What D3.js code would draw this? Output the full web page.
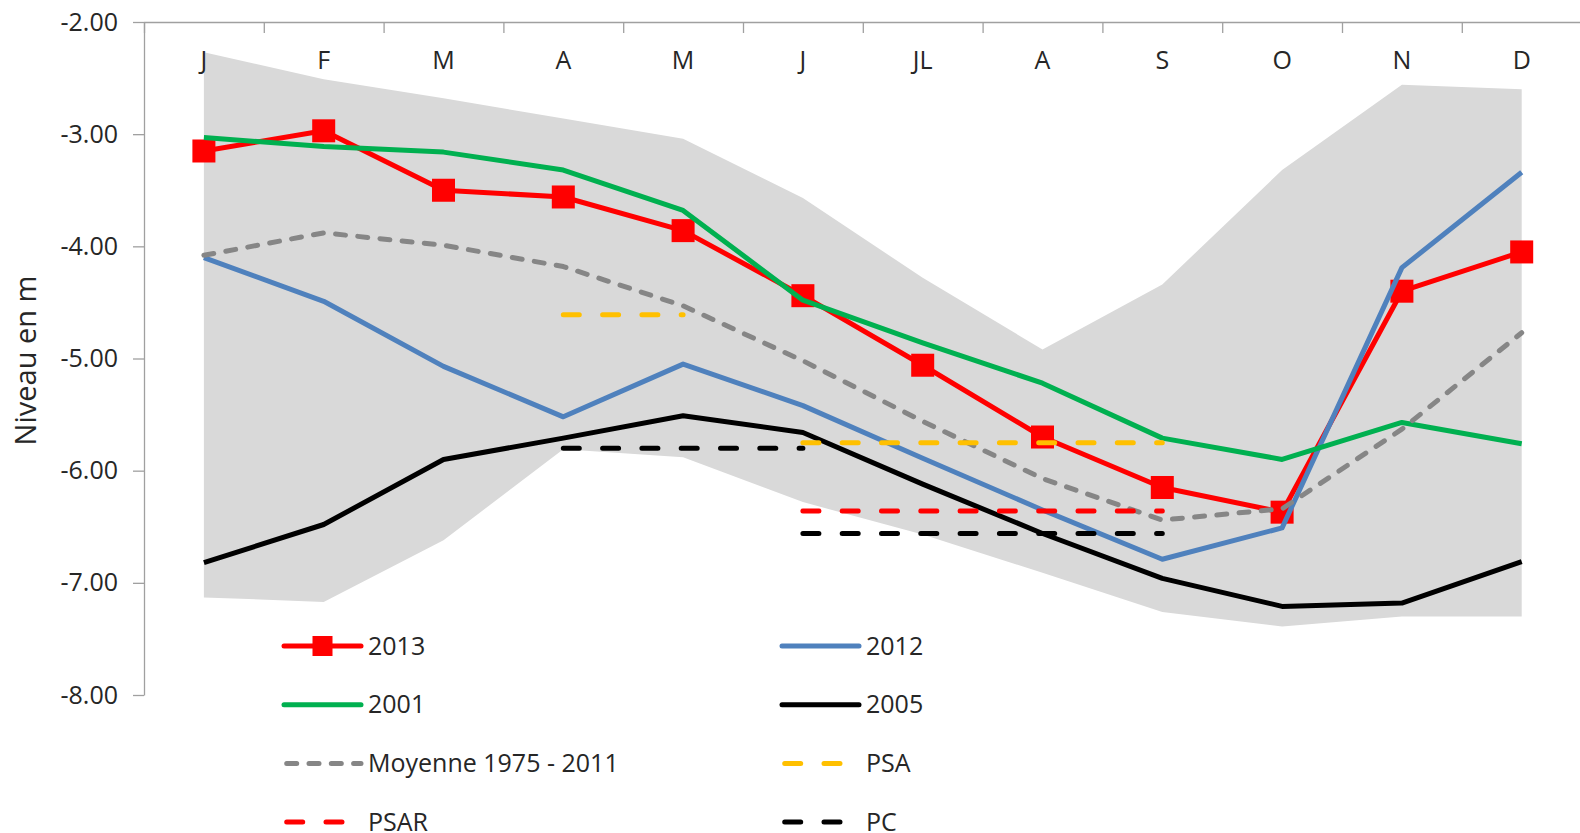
<!DOCTYPE html>
<html>
<head>
<meta charset="utf-8">
<script src="https://cdn.jsdelivr.net/npm/d3@7"></script>
<style>
  body { margin: 0; background: #fff; }
  svg { display: block; font-family: "Open Sans", sans-serif; }
</style>
</head>
<body>
<script>
// months on the top axis
var months = ["J", "F", "M", "A", "M", "J", "JL", "A", "S", "O", "N", "D"];
var yTicks = [-2, -3, -4, -5, -6, -7, -8];

// min / max envelope (grey band)
var envHigh = [-2.27, -2.51, -2.68, -2.86, -3.04, -3.57, -4.28, -4.92, -4.34, -3.32, -2.56, -2.60];
var envLow  = [-7.13, -7.17, -6.62, -5.81, -5.88, -6.28, -6.57, -6.91, -7.26, -7.39, -7.30, -7.30];

var s2013 = [-3.15, -2.97, -3.50, -3.56, -3.86, -4.44, -5.06, -5.70, -6.15, -6.37, -4.40, -4.05];
var s2012 = [-4.10, -4.49, -5.07, -5.52, -5.05, -5.42, -5.89, -6.35, -6.79, -6.51, -4.19, -3.34];
var s2001 = [-3.03, -3.11, -3.16, -3.32, -3.68, -4.48, -4.86, -5.22, -5.71, -5.90, -5.57, -5.76];
var s2005 = [-6.82, -6.48, -5.90, -5.71, -5.51, -5.66, -6.12, -6.56, -6.96, -7.21, -7.18, -6.81];
var moyenne = [-4.08, -3.88, -3.99, -4.18, -4.53, -5.02, -5.56, -6.07, -6.44, -6.34, -5.63, -4.77];

// thresholds (null = not shown that month)
var psa1  = [null, null, null, -4.61, -4.61, null, null, null, null, null, null, null];
var psa2  = [null, null, null, null, null, -5.75, -5.75, -5.75, -5.75, null, null, null];
var psar  = [null, null, null, null, null, -6.36, -6.36, -6.36, -6.36, null, null, null];
var pc1   = [null, null, null, -5.80, -5.80, -5.80, null, null, null, null, null, null];
var pc2   = [null, null, null, null, null, -6.56, -6.56, -6.56, -6.56, null, null, null];

var w = 1580, h = 833;
var plotLeft = 144, plotTop = 22, plotBottom = 695;
var band = 119.8;

var svg = d3.select("body").append("svg")
    .attr("width", w)
    .attr("height", h);

var x = d3.scaleBand()
    .domain(d3.range(12))
    .range([plotLeft, plotLeft + band * 12])
    .paddingInner(0).paddingOuter(0);
var xEdge = d3.scaleLinear()
    .domain([0, 12])
    .range([plotLeft, plotLeft + band * 12]);
var y = d3.scaleLinear()
    .domain([-2, -8])
    .range([plotTop, plotBottom]);

function cx(i) { return x(i) + x.bandwidth() / 2; }

// grey band
var area = d3.area()
    .x(function(d, i) { return cx(i); })
    .y0(function(d, i) { return y(envLow[i]); })
    .y1(function(d) { return y(d); });
svg.append("path")
    .datum(envHigh)
    .attr("d", area)
    .attr("fill", "#d9d9d9");

// axes
var yAxis = svg.append("g")
    .attr("transform", "translate(" + plotLeft + ",0)")
    .call(d3.axisLeft(y)
      .tickValues(yTicks)
      .tickFormat(function(d) { return d.toFixed(2); })
      .tickSize(11)
      .tickSizeOuter(0)
      .tickPadding(15));
yAxis.selectAll("line, path").attr("stroke", "#a0a0a0").attr("stroke-width", 1.3);
yAxis.selectAll("text")
    .attr("fill", "#262626")
    .style("font-size", "25px")
    .style("font-family", "'Open Sans', sans-serif");

var xTicks = svg.append("g")
    .attr("transform", "translate(0," + plotTop + ")")
    .call(d3.axisBottom(xEdge)
      .tickValues(d3.range(0, 12))
      .tickFormat("")
      .tickSize(11)
      .tickSizeOuter(0));
xTicks.select(".domain").attr("d", "M" + plotLeft + ",0.5H" + w);
xTicks.selectAll("line, path").attr("stroke", "#a0a0a0").attr("stroke-width", 1.3);

var xAxis = svg.append("g")
    .attr("transform", "translate(0," + plotTop + ")")
    .call(d3.axisBottom(x)
      .tickFormat(function(i) { return months[i]; })
      .tickSize(0)
      .tickPadding(29));
xAxis.select(".domain").remove();
xAxis.selectAll("text")
    .attr("fill", "#262626")
    .style("font-size", "25px")
    .style("font-family", "'Open Sans', sans-serif");

svg.append("text")
    .attr("transform", "translate(36," + ((plotTop + plotBottom) / 2 + 2) + ")rotate(-90)")
    .attr("text-anchor", "middle")
    .attr("fill", "#262626")
    .style("font-size", "29px")
    .text("Niveau en m");

// series
var line = d3.line()
    .defined(function(d) { return d != null; })
    .x(function(d, i) { return cx(i); })
    .y(function(d) { return y(d); });

var series = [
  { name: "2013", data: [s2013], color: "#ff0000", dash: null, marker: true },
  { name: "2012", data: [s2012], color: "#4f81bd", dash: null },
  { name: "2001", data: [s2001], color: "#00b050", dash: null },
  { name: "2005", data: [s2005], color: "#000000", dash: null },
  { name: "Moyenne 1975 - 2011", data: [moyenne], color: "#868686", dash: "10,12.3" },
  { name: "PSA", data: [psa1, psa2], color: "#ffc000", dash: "16,23.3" },
  { name: "PSAR", data: [psar], color: "#ff0000", dash: "16,23.3" },
  { name: "PC", data: [pc1, pc2], color: "#000000", dash: "16,23.3" }
];

series.forEach(function(s) {
  s.data.forEach(function(arr) {
    svg.append("path")
        .datum(arr)
        .attr("d", line)
        .attr("fill", "none")
        .attr("stroke", s.color)
        .attr("stroke-width", 5)
        .attr("stroke-linejoin", "round")
        .attr("stroke-linecap", s.dash ? "round" : "butt")
        .attr("stroke-dasharray", s.dash);
  });
  if (s.marker) {
    svg.selectAll(".mk")
        .data(s.data[0])
        .enter()
        .append("rect")
        .attr("x", function(d, i) { return cx(i) - 11.5; })
        .attr("y", function(d) { return y(d) - 11.5; })
        .attr("width", 23)
        .attr("height", 23)
        .attr("fill", s.color);
  }
});

// legend, two columns
var legend = svg.append("g");
series.forEach(function(s, i) {
  var lx = (i % 2 === 0) ? 284 : 782;
  var ly = 646 + Math.floor(i / 2) * 58.7;
  var g = legend.append("g").attr("transform", "translate(" + lx + "," + ly + ")");
  g.append("line")
      .attr("x1", s.dash ? 2.7 : 0)
      .attr("x2", 77)
      .attr("stroke", s.color)
      .attr("stroke-width", 5)
      .attr("stroke-linecap", "round")
      .attr("stroke-dasharray", s.dash);
  if (s.marker) {
    g.append("rect")
        .attr("x", 28.5).attr("y", -10)
        .attr("width", 20).attr("height", 20)
        .attr("fill", s.color);
  }
  g.append("text")
      .attr("x", 84)
      .attr("dy", "0.35em")
      .attr("fill", "#262626")
      .style("font-size", "25px")
      .text(s.name);
});
</script>
</body>
</html>
